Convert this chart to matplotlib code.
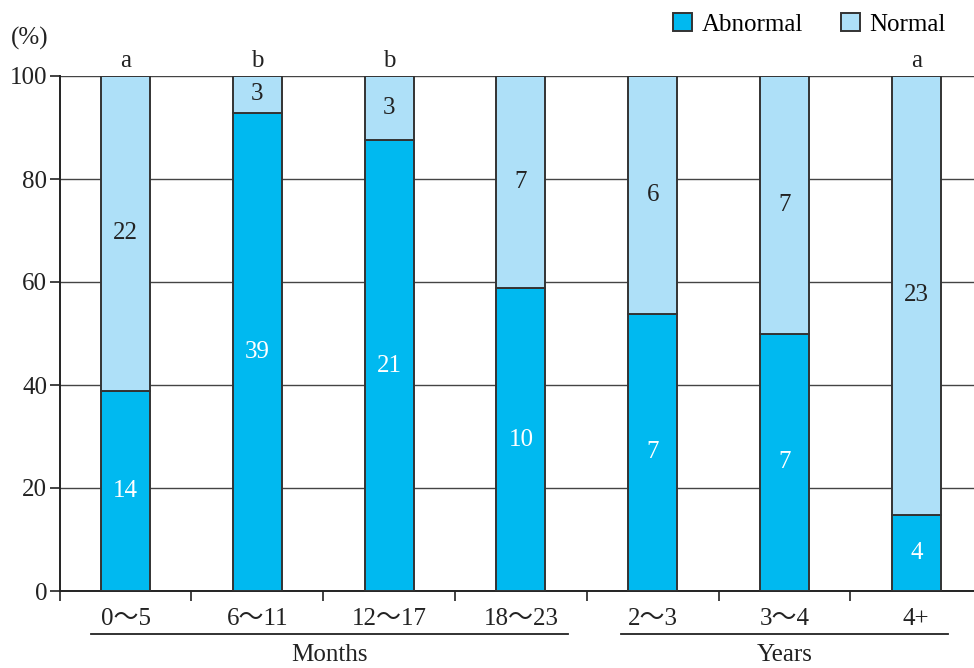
import matplotlib
matplotlib.use("Agg")
import matplotlib.pyplot as plt
from matplotlib.patches import Patch
from matplotlib.lines import Line2D
import numpy as np

plt.rcParams['font.family'] = ['Liberation Serif', 'Noto Sans CJK JP']

# Age groups and counts per group
categories = ["0〜5", "6〜11", "12〜17", "18〜23", "2〜3", "3〜4", "4+"]
abnormal = [14, 39, 21, 10, 7, 7, 4]
normal = [22, 3, 3, 7, 6, 7, 23]
sig_letters = ["a", "b", "b", "", "", "", "a"]
groups = [("Months", 0, 3), ("Years", 4, 6)]

abn = np.array(abnormal, dtype=float)
nor = np.array(normal, dtype=float)
total = abn + nor
abn_pct = abn / total * 100
nor_pct = nor / total * 100

c_abn = "#00B9F0"
c_nor = "#AEE0F8"
edge = "#333333"
fs = 18

W, H = 974, 668
fig = plt.figure(figsize=(W / 100, H / 100), dpi=100)
ax = fig.add_axes([59.6 / W, 77 / H, 922.6 / W, 515 / H])

x = np.arange(len(categories))
bw = 0.372
ax.bar(x, abn_pct, bw, color=c_abn, edgecolor=edge, linewidth=1.4, zorder=3)
ax.bar(x, nor_pct, bw, bottom=abn_pct, color=c_nor, edgecolor=edge, linewidth=1.4, zorder=3)

for i in range(len(x)):
    ax.text(x[i], abn_pct[i] / 2, str(abnormal[i]), ha="center", va="center",
            color="white", fontsize=fs, zorder=4)
    ax.text(x[i], abn_pct[i] + nor_pct[i] / 2, str(normal[i]), ha="center", va="center",
            color="#222222", fontsize=fs, zorder=4)
    if sig_letters[i]:
        ax.annotate(sig_letters[i], (x[i], 100), xytext=(0, 3), textcoords="offset points",
                    ha="center", va="bottom", fontsize=fs, color="#222222")

ax.set_xlim(-0.5, len(x) - 0.5)
ax.set_ylim(0, 100)
ax.set_yticks(np.arange(0, 101, 20))
ax.yaxis.grid(True, color="#444444", linewidth=1.0, zorder=0)
ax.set_axisbelow(True)
ax.tick_params(axis="y", direction="out", length=7, width=1.2, labelsize=fs,
               colors="#222222", pad=2)

ax.set_xticks(np.arange(-0.5, len(x) - 0.5, 1.0))
ax.set_xticklabels([])
ax.set_xticks(x, minor=True)
ax.set_xticklabels(categories, minor=True)
ax.tick_params(axis="x", which="major", direction="out", length=7, width=1.2, colors="#222222")
ax.tick_params(axis="x", which="minor", length=0, labelsize=fs, pad=12, colors="#222222")

for s in ["top", "right"]:
    ax.spines[s].set_visible(False)
for s in ["left", "bottom"]:
    ax.spines[s].set_color("#222222")
    ax.spines[s].set_linewidth(1.4)

# group underlines and labels
trans = ax.get_xaxis_transform()
spans = {"Months": (-0.26, 0.36), "Years": (-0.24, 0.24)}
for name, a, b in groups:
    lpad, rpad = spans[name]
    y_line = -43 / 515
    ax.add_line(Line2D([a + lpad, b + rpad], [y_line, y_line], transform=trans,
                       color="#222222", linewidth=1.3, clip_on=False))
    ax.text((a + lpad + b + rpad) / 2, -64 / 515, name, transform=trans,
            ha="center", va="center", fontsize=fs, color="#222222")

fig.text(30 / W, 1 - 38 / H, "(%)", ha="center", va="center", fontsize=fs, color="#222222")

handles = [Patch(facecolor=c_abn, edgecolor=edge, linewidth=1.4, label="Abnormal"),
           Patch(facecolor=c_nor, edgecolor=edge, linewidth=1.4, label="Normal")]
fig.legend(handles=handles, loc="upper right", bbox_to_anchor=(956 / W, 1 - 3 / H), ncol=2,
           frameon=False, fontsize=fs, handlelength=0.75, handleheight=0.75,
           handletextpad=0.4, columnspacing=1.5, borderaxespad=0.0)

fig.savefig("out.png", dpi=100)
